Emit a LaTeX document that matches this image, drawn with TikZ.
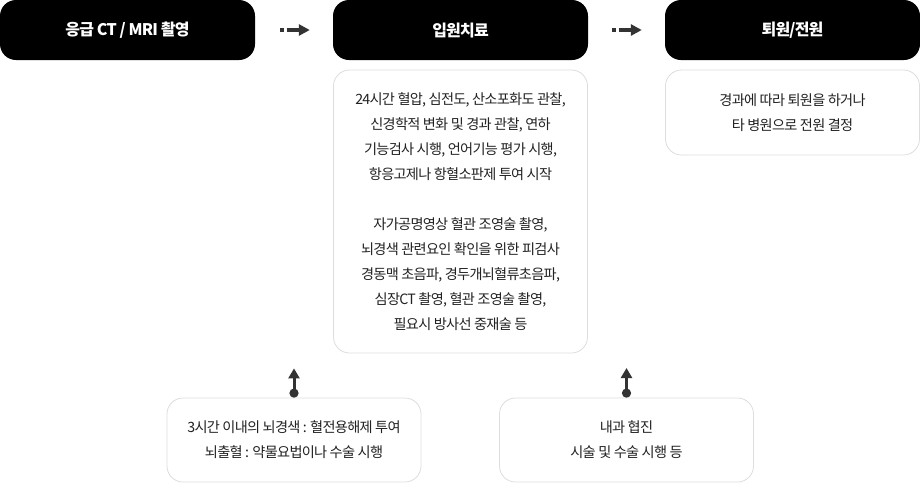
\documentclass[tikz,border=0pt]{standalone}
\usepackage{fontspec}
\setmainfont{Noto Sans CJK KR}[LetterSpace=-5]
\usetikzlibrary{arrows.meta}
\definecolor{txt}{HTML}{222222}
\definecolor{edge}{HTML}{DDDDDD}
\definecolor{arr}{HTML}{333333}
\tikzset{
  headbox/.style={fill=black, rounded corners=16pt, minimum width=255pt, minimum height=60pt, inner sep=0pt,
    text=white, font=\fontsize{16}{18}\selectfont\bfseries},
  infobox/.style={draw=edge, line width=0.8pt, fill=white, rounded corners=16pt, inner sep=0pt,
    text=txt, align=center, font=\fontsize{14.2}{25}\selectfont},
  harrow/.style={draw=arr, line width=4pt, dash pattern=on 4pt off 2.5pt on 60pt,
    -{Triangle[length=11pt,width=11pt]}},
  varrow/.style={draw=arr, line width=3pt, {Circle[length=9pt,width=9pt]}-{Triangle[length=10pt,width=11pt]}}
}
\begin{document}
\begin{tikzpicture}[x=1pt,y=-1pt]
\useasboundingbox (0,0) rectangle (920,483);
\node[headbox] (h1) at (127.5,30) {응급 CT / MRI 촬영};
\node[headbox] (h2) at (460.5,30) {입원치료};
\node[headbox] (h3) at (792.5,30) {퇴원/전원};
\node[infobox, minimum width=254pt, minimum height=283pt] (d2) at (460.5,211.5) {%
24시간 혈압, 심전도, 산소포화도 관찰,\\
신경학적 변화 및 경과 관찰, 연하\\
기능검사 시행, 언어기능 평가 시행,\\
항응고제나 항혈소판제 투여 시작\\
\mbox{}\\
자가공명영상 혈관 조영술 촬영,\\
뇌경색 관련요인 확인을 위한 피검사\\
경동맥 초음파, 경두개뇌혈류초음파,\\
심장CT 촬영, 혈관 조영술 촬영,\\
필요시 방사선 중재술 등};
\node[infobox, minimum width=254pt, minimum height=85pt] (d3) at (792.5,112.5) {%
경과에 따라 퇴원을 하거나\\
타 병원으로 전원 결정};
\node[infobox, minimum width=254pt, minimum height=84pt] (b1) at (294,440) {%
3시간 이내의 뇌경색 : 혈전용해제 투여\\
뇌출혈 : 약물요법이나 수술 시행};
\node[infobox, minimum width=254pt, minimum height=84pt] (b2) at (626.5,440) {%
내과 협진\\
시술 및 수술 시행 등};
\coordinate (t2) at (626.5,368);
\draw[harrow, shorten <=25pt, shorten >=23pt] (h1.east) -- (h2.west);
\draw[harrow, shorten <=24pt, shorten >=23pt] (h2.east) -- (h3.west);
\draw[varrow, shorten >=15pt] (b1.north) -- (d2.south -| b1.north);
\draw[varrow] (b2.north) -- (t2);
\end{tikzpicture}
\end{document}
